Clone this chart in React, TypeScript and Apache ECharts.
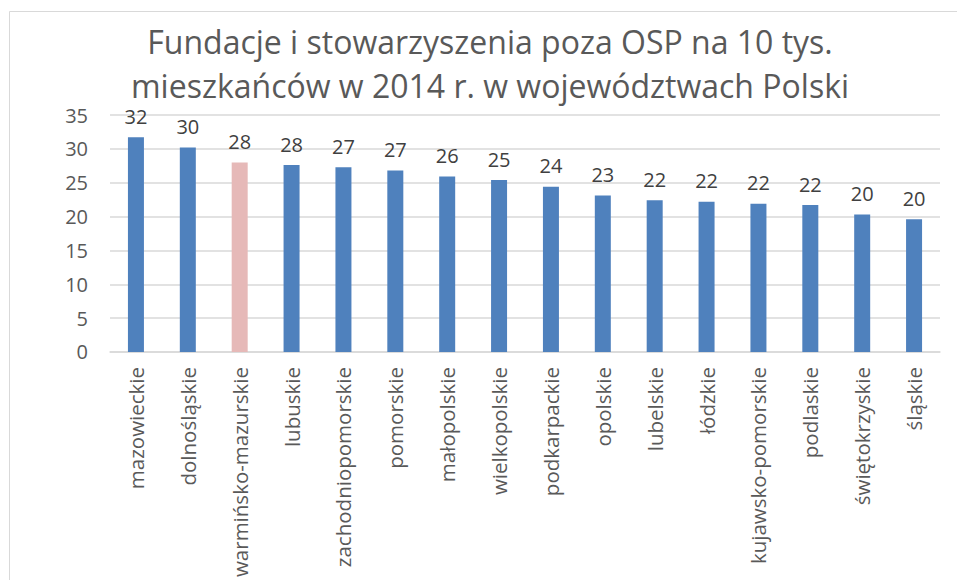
import React, { useEffect, useRef } from "react";
import * as echarts from "echarts";

const titleLines = [
  "Fundacje i stowarzyszenia poza OSP na 10 tys.",
  "mieszkańców w 2014 r. w województwach Polski",
];

const categories = [
  "mazowieckie",
  "dolnośląskie",
  "warmińsko-mazurskie",
  "lubuskie",
  "zachodniopomorskie",
  "pomorskie",
  "małopolskie",
  "wielkopolskie",
  "podkarpackie",
  "opolskie",
  "lubelskie",
  "łódzkie",
  "kujawsko-pomorskie",
  "podlaskie",
  "świętokrzyskie",
  "śląskie",
];

const values = [31.7, 30.2, 28.0, 27.6, 27.3, 26.8, 25.9, 25.4, 24.4, 23.1, 22.4, 22.2, 21.9, 21.7, 20.3, 19.6];

const highlighted = "warmińsko-mazurskie";

const FONT = "Open Sans";

export default function App() {
  const ref = useRef<HTMLDivElement>(null);
  useEffect(() => {
    const chart = echarts.init(ref.current!, null, { renderer: "svg" });
    chart.setOption({
      animation: false,
      backgroundColor: "#ffffff",
      graphic: [
        {
          type: "rect",
          shape: { x: 9.5, y: 11.5, width: 1000, height: 700 },
          style: { fill: "none", stroke: "#D9D9D9", lineWidth: 1 },
          silent: true,
        },
        ...titleLines.map((t, i) => ({
          type: "text",
          x: 490,
          y: 41 + i * 44,
          style: {
            text: t,
            fill: "#595959",
            fontFamily: FONT,
            fontSize: 32,
            textAlign: "center",
            textVerticalAlign: "middle",
          },
        })),
      ],
      grid: { left: 110, right: 17, top: 115, bottom: 226, containLabel: false },
      xAxis: {
        type: "category",
        data: categories,
        axisLine: { lineStyle: { color: "#D9D9D9", width: 1.5 } },
        axisTick: { show: false },
        axisLabel: {
          rotate: 90,
          interval: 0,
          margin: 15,
          color: "#595959",
          fontFamily: FONT,
          fontSize: 20.5,
        },
      },
      yAxis: {
        type: "value",
        min: 0,
        max: 35,
        interval: 5,
        axisLine: { show: false },
        axisTick: { show: false },
        splitLine: { lineStyle: { color: "#D9D9D9", width: 1.5 } },
        axisLabel: {
          margin: 22,
          color: "#595959",
          fontFamily: FONT,
          fontSize: 20,
        },
      },
      series: [
        {
          type: "bar",
          barWidth: 16,
          data: categories.map((c, i) => ({
            value: values[i],
            itemStyle: { color: c === highlighted ? "#E6B9B8" : "#4F81BD" },
          })),
          label: {
            show: true,
            position: "top",
            distance: 11,
            color: "#404040",
            fontFamily: FONT,
            fontSize: 20,
            formatter: (p: any) => String(Math.round(p.value)),
          },
        },
      ],
    });
    return () => chart.dispose();
  }, []);
  return <div ref={ref} style={{ position: "fixed", left: 0, top: 0, width: 957, height: 580 }} />;
}
